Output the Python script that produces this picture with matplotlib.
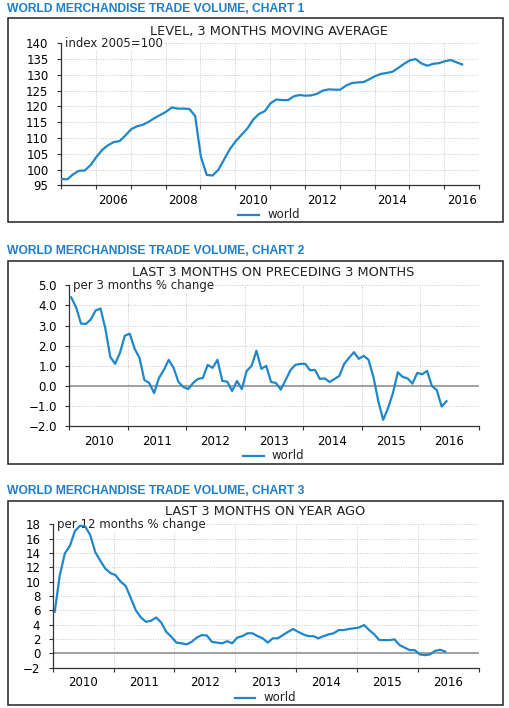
import numpy as np
import matplotlib
matplotlib.use("Agg")
import matplotlib.pyplot as plt
from matplotlib.patches import Rectangle
from matplotlib.lines import Line2D

W, H = 509, 708
LINE_COLOR = "#1f87c9"
TITLE_COLOR = "#1a7fcc"

plt.rcParams["font.family"] = ["DejaVu Sans"]

# chart 1: level, 3 months moving average, every 2nd month from Jan 2005
c1_values = [97.0, 96.9, 98.5, 99.6, 99.7, 101.4, 104.0, 106.2, 107.7, 108.7,
             109.0, 110.8, 112.8, 113.7, 114.2, 115.1, 116.3, 117.3, 118.3, 119.7,
             119.3, 119.3, 119.2, 117.0, 104.0, 98.3, 98.1, 99.9, 103.2, 106.5,
             109.0, 111.0, 113.0, 115.8, 117.6, 118.5, 121.0, 122.2, 122.0, 122.0,
             123.2, 123.6, 123.4, 123.5, 124.0, 125.0, 125.4, 125.3, 125.3, 126.6,
             127.4, 127.6, 127.7, 128.6, 129.6, 130.3, 130.6, 131.0, 132.2, 133.5,
             134.6, 135.0, 133.6, 132.9, 133.5, 133.7, 134.3, 134.7, 134.0, 133.3]

# chart 2: last 3 months on preceding 3 months, monthly from Jan 2010
c2_values = [4.4, 3.9, 3.1, 3.08, 3.3, 3.75, 3.85, 2.85, 1.45, 1.1,
             1.65, 2.5, 2.6, 1.85, 1.4, 0.3, 0.15, -0.35, 0.4, 0.8,
             1.3, 0.9, 0.2, -0.05, -0.15, 0.15, 0.35, 0.4, 1.05, 0.9,
             1.3, 0.25, 0.22, -0.25, 0.25, -0.15, 0.75, 1.0, 1.75, 0.85,
             1.0, 0.2, 0.15, -0.18, 0.3, 0.8, 1.05, 1.1, 1.1, 0.78,
             0.8, 0.35, 0.38, 0.2, 0.35, 0.5, 1.1, 1.4, 1.68, 1.35,
             1.5, 1.3, 0.45, -0.75, -1.68, -1.1, -0.35, 0.68, 0.45, 0.38,
             0.12, 0.65, 0.58, 0.75, 0.0, -0.2, -1.02, -0.75]

# chart 3: last 3 months on year ago, monthly from Jan 2010
c3_values = [5.8, 10.9, 13.95, 15.0, 17.1, 17.8, 17.7, 16.5, 14.1, 12.9,
             11.8, 11.2, 10.9, 10.0, 9.4, 7.7, 6.0, 5.0, 4.4, 4.55,
             5.0, 4.3, 3.0, 2.3, 1.5, 1.4, 1.25, 1.6, 2.2, 2.55,
             2.5, 1.6, 1.5, 1.4, 1.7, 1.4, 2.2, 2.4, 2.8, 2.8,
             2.4, 2.1, 1.5, 2.1, 2.1, 2.55, 3.0, 3.4, 3.0, 2.65,
             2.4, 2.4, 2.1, 2.4, 2.65, 2.8, 3.25, 3.25, 3.4, 3.5,
             3.6, 3.95, 3.25, 2.65, 1.85, 1.85, 1.85, 1.95, 1.15, 0.8,
             0.45, 0.45, -0.15, -0.25, -0.15, 0.35, 0.5, 0.25]

c1_x = 2005 + (np.arange(len(c1_values)) * 2 + 0.2) / 12
c2_x = 2010 + (np.arange(len(c2_values)) + 0.4) / 12
c3_x = 2010 + (np.arange(len(c3_values)) + 0.4) / 12


def fx(px):
    return px / W


def fy(py):
    return 1 - py / H


def panel(fig, name, title_y, box, sub, sub_x, note, ax_px, x, y,
          xlim, ylim, yticks, ylabels, year_labels, leg):
    fig.text(fx(7), fy(title_y), name, color=TITLE_COLOR, fontsize=8.7,
             fontweight="bold", va="center", ha="left",
             family="Liberation Sans")
    x0, y0, x1, y1 = box
    fig.patches.append(Rectangle((fx(x0), fy(y1)), fx(x1 - x0), (y1 - y0) / H,
                                 transform=fig.transFigure, fill=False,
                                 edgecolor="#222222", linewidth=1.1))
    fig.text(fx(sub_x), fy(sub[1]), sub[0], fontsize=9.3, color="#222222",
             ha="center", va="center")

    l, r, t, b = ax_px
    ax = fig.add_axes([fx(l), fy(b), fx(r - l), (b - t) / H])
    ax.plot(x, y, color=LINE_COLOR, linewidth=1.6, zorder=3)
    ax.set_xlim(*xlim)
    ax.set_ylim(*ylim)

    ax.set_yticks(yticks)
    ax.set_yticklabels(ylabels)
    ax.set_xticks(np.arange(xlim[0], xlim[1] + 1))
    ax.set_xticklabels([])
    ax.set_xticks([yr + 0.5 for yr in year_labels], minor=True)
    ax.set_xticklabels([str(yr) for yr in year_labels], minor=True)
    ax.tick_params(axis="x", which="minor", length=0, pad=6, labelsize=8.5)
    ax.tick_params(axis="x", which="major", length=3, color="#333333")
    ax.tick_params(axis="y", length=3, color="#333333", labelsize=8.5, pad=6)

    ax.grid(True, which="major", color="#c8c8c8", linestyle=(0, (1, 1.5)),
            linewidth=0.7)
    for s in ["top", "right"]:
        ax.spines[s].set_visible(False)
    for s in ["left", "bottom"]:
        ax.spines[s].set_color("#333333")
        ax.spines[s].set_linewidth(0.9)

    if ylim[0] < 0:
        ax.axhline(0, color="#9a9a9a", linewidth=1.3, zorder=2)

    ax.text(0.01, 1.0, note, transform=ax.transAxes, fontsize=8.5,
            ha="left", va="center", color="#222222", zorder=2.5,
            bbox=dict(facecolor="white", edgecolor="none", pad=0.5))

    lx0, lx1, ly, tx = leg
    fig.lines.append(Line2D([fx(lx0), fx(lx1)], [fy(ly), fy(ly)],
                            transform=fig.transFigure, color=LINE_COLOR,
                            linewidth=1.6))
    fig.text(fx(tx), fy(ly), "world", fontsize=8.5, va="center", ha="left",
             color="#222222")
    return ax


fig = plt.figure(figsize=(W / 100, H / 100), dpi=100)

panel(fig, "WORLD MERCHANDISE TRADE VOLUME, CHART 1", 9, (8, 18, 503, 222),
      ("LEVEL, 3 MONTHS MOVING AVERAGE", 31), 269, "index 2005=100",
      (61, 479, 43.3, 185.3), c1_x, c1_values, (2005, 2017), (95, 140),
      list(range(95, 141, 5)), [str(v) for v in range(95, 141, 5)],
      [2006, 2008, 2010, 2012, 2014, 2016], (238, 259, 215, 267))

c2_ticks = [-2.0, -1.0, 0.0, 1.0, 2.0, 3.0, 4.0, 5.0]
panel(fig, "WORLD MERCHANDISE TRADE VOLUME, CHART 2", 250.7, (8, 261, 503, 464),
      ("LAST 3 MONTHS ON PRECEDING 3 MONTHS", 272.7), 273,
      "per 3 months % change",
      (69.3, 478.7, 285.3, 426.3), c2_x, c2_values, (2010, 2017), (-2, 5),
      c2_ticks, [f"{v:.1f}".replace("-", "\u2212") for v in c2_ticks],
      list(range(2010, 2017)), (243, 264, 455.7, 272))

c3_ticks = list(range(-2, 19, 2))
panel(fig, "WORLD MERCHANDISE TRADE VOLUME, CHART 3", 490.7, (8, 501, 503, 705),
      ("LAST 3 MONTHS ON YEAR AGO", 511.7), 265, "per 12 months % change",
      (52.7, 478.7, 524.3, 667.7), c3_x, c3_values, (2010, 2017), (-2, 18),
      c3_ticks, [str(v).replace("-", "\u2212") for v in c3_ticks],
      list(range(2010, 2017)), (235, 255, 697.7, 263))

fig.savefig("out.png", dpi=100)
